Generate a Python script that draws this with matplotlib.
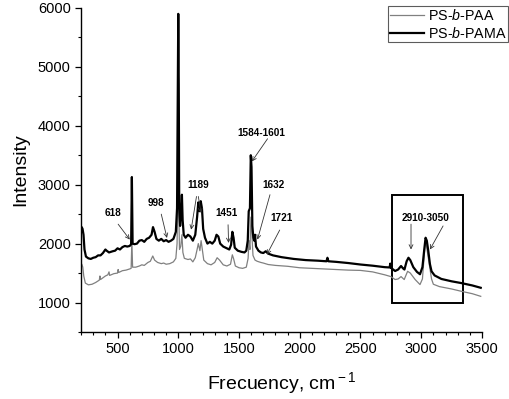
import matplotlib
matplotlib.use("Agg")
import matplotlib.pyplot as plt
from matplotlib.patches import Rectangle
from matplotlib.ticker import MultipleLocator

plt.rcParams['font.family'] = ['Liberation Sans', 'DejaVu Sans']
plt.rcParams['mathtext.fontset'] = 'custom'
plt.rcParams['mathtext.rm'] = 'Liberation Sans'
plt.rcParams['mathtext.it'] = 'Liberation Sans:italic'

# ---- data ----
wn_pama = [200, 205, 212, 220, 228, 240, 260, 280, 300, 320, 340, 360, 380, 400, 410, 430, 460, 480,
           500, 520, 540, 560, 580, 600, 612, 618, 624, 640, 660, 680, 700, 720, 740, 760, 780, 792,
           805, 820, 840, 860, 880, 900, 920, 940, 960, 980, 990, 995, 1000, 1004, 1008, 1015, 1022,
           1030, 1036, 1045, 1060, 1080, 1100, 1120, 1140, 1155, 1165, 1175, 1185, 1195, 1205, 1220,
           1240, 1260, 1280, 1300, 1315, 1330, 1345, 1370, 1400, 1420, 1435, 1445, 1455, 1465, 1490,
           1520, 1545, 1560, 1572, 1580, 1590, 1597, 1603, 1610, 1618, 1625, 1632, 1640, 1660, 1680,
           1700, 1720, 1740, 1780, 1850, 1950, 2050, 2150, 2220, 2228, 2236, 2300, 2400, 2500, 2600,
           2700, 2740, 2745, 2750, 2785, 2810, 2834, 2850, 2862, 2880, 2895, 2910, 2935, 2965, 2990,
           3010, 3025, 3036, 3046, 3058, 3072, 3085, 3110, 3166, 3250, 3330, 3420, 3490]
int_pama = [2200, 2280, 2250, 2150, 1900, 1780, 1750, 1740, 1760, 1770, 1800, 1800, 1840, 1900, 1880,
            1850, 1870, 1880, 1920, 1900, 1940, 1960, 1950, 1960, 1990, 3130, 2000, 1990, 2000, 2050,
            2060, 2030, 2080, 2100, 2150, 2280, 2200, 2080, 2050, 2080, 2040, 2060, 2030, 2050, 2080,
            2200, 2600, 4200, 5900, 4700, 2600, 2300, 2500, 2830, 2400, 2150, 2100, 2150, 2120, 2050,
            2150, 2450, 2700, 2550, 2720, 2600, 2250, 2100, 2000, 2030, 2000, 2050, 2150, 2120, 2000,
            1950, 1920, 1900, 1980, 2200, 2100, 1930, 1880, 1860, 1850, 1880, 2050, 2550, 2600, 3500,
            3300, 2300, 2100, 2050, 2150, 1950, 1880, 1850, 1840, 1870, 1830, 1800, 1770, 1740, 1720,
            1710, 1700, 1760, 1700, 1690, 1670, 1645, 1625, 1600, 1595, 1660, 1590, 1535, 1560, 1620,
            1580, 1560, 1700, 1760, 1720, 1600, 1520, 1480, 1600, 1900, 2100, 2050, 1880, 1650, 1530,
            1460, 1400, 1360, 1330, 1290, 1250]

wn_paa = [200, 206, 214, 222, 235, 260, 290, 320, 350, 355, 360, 400, 420, 430, 435, 470, 500, 505,
          510, 540, 570, 600, 612, 618, 624, 650, 680, 700, 720, 750, 770, 790, 805, 830, 860, 880,
          900, 930, 960, 980, 990, 995, 1000, 1004, 1010, 1020, 1030, 1038, 1050, 1080, 1100, 1120,
          1140, 1155, 1165, 1178, 1188, 1198, 1210, 1240, 1270, 1300, 1320, 1340, 1370, 1400, 1430,
          1445, 1456, 1470, 1500, 1530, 1560, 1575, 1582, 1590, 1598, 1605, 1615, 1632, 1650, 1680,
          1700, 1740, 1800, 1900, 2000, 2100, 2200, 2300, 2400, 2500, 2600, 2700, 2750, 2785, 2810,
          2834, 2860, 2888, 2910, 2950, 2990, 3010, 3025, 3036, 3048, 3070, 3085, 3100, 3150, 3250,
          3331, 3420, 3490]
int_paa = [1600, 1650, 1600, 1450, 1330, 1300, 1310, 1340, 1380, 1450, 1390, 1450, 1470, 1520, 1460,
           1490, 1500, 1560, 1510, 1540, 1550, 1570, 1580, 2050, 1600, 1600, 1620, 1640, 1630, 1680,
           1700, 1790, 1720, 1680, 1660, 1670, 1650, 1660, 1690, 1750, 2000, 2600, 3200, 2600, 1900,
           1950, 2150, 1850, 1750, 1730, 1740, 1690, 1760, 1900, 2000, 1880, 2050, 1900, 1720, 1660,
           1640, 1680, 1760, 1720, 1640, 1620, 1650, 1810, 1740, 1620, 1590, 1580, 1600, 1750, 2050,
           1900, 2450, 2200, 1800, 1720, 1700, 1680, 1670, 1645, 1630, 1615, 1590, 1580, 1570, 1560,
           1550, 1545, 1520, 1470, 1440, 1390, 1400, 1440, 1390, 1530, 1500, 1390, 1305, 1400, 1800,
           2060, 1900, 1600, 1400, 1310, 1270, 1230, 1190, 1150, 1105]

series_labels = ['PS-$\\it{b}$-PAA', 'PS-$\\it{b}$-PAMA']

# annotations: (text, text_x, text_y, [(arrow_tip_x, arrow_tip_y, start_x, start_y), ...])
annotations = [
    ('618', 462, 2525, [(601, 2068, 505, 2330)]),
    ('998', 820, 2695, [(907, 2096, 860, 2500)]),
    ('1189', 1161, 3000, [(1106, 2237, 1150, 2800), (1188, 2520, 1165, 2800)]),
    ('1451', 1393, 2520, [(1414, 2012, 1410, 2320)]),
    ('1584-1601', 1682, 3880, [(1606, 3395, 1735, 3780)]),
    ('1632', 1780, 3000, [(1652, 2068, 1755, 2830)]),
    ('1721', 1852, 2435, [(1729, 1813, 1835, 2230)]),
    ('2910-3050', 3036, 2435, [(2916, 1900, 2916, 2330), (3072, 1900, 3180, 2300)]),
]
box_x = [2760, 3340]
box_y = [1000, 2830]

fig = plt.figure(figsize=(5.1, 3.99), dpi=100)
ax = fig.add_axes([0.159, 0.168, 0.786, 0.812])

ax.plot(wn_paa, int_paa, color='#808080', lw=0.9, label=series_labels[0])
ax.plot(wn_pama, int_pama, color='black', lw=1.6, label=series_labels[1])

ax.set_xlim(200, 3500)
ax.set_ylim(500, 6000)
ax.xaxis.set_major_locator(MultipleLocator(500))
ax.xaxis.set_minor_locator(MultipleLocator(100))
ax.yaxis.set_major_locator(MultipleLocator(1000))
ax.yaxis.set_minor_locator(MultipleLocator(500))
ax.tick_params(which='major', direction='out', length=4, width=0.9, labelsize=10.5)
ax.tick_params(which='minor', direction='out', length=2.5, width=0.8)
for s in ['top', 'right']:
    ax.spines[s].set_visible(False)
for s in ['left', 'bottom']:
    ax.spines[s].set_linewidth(1.0)

ax.set_xlabel('Frecuency, cm$^{\\rm -1}$', fontsize=14, labelpad=10)
ax.set_ylabel('Intensity', fontsize=14, labelpad=6)

for txt, tx, ty, arrows in annotations:
    ax.text(tx, ty, txt, fontsize=7.2, fontweight='bold', ha='center', va='center')
    for (px, py, sx, sy) in arrows:
        ax.annotate('', xy=(px, py), xytext=(sx, sy),
                    arrowprops=dict(arrowstyle='->', lw=0.6, color='#333333',
                                    shrinkA=0, shrinkB=0, mutation_scale=7))

ax.add_patch(Rectangle((box_x[0], box_y[0]), box_x[1] - box_x[0], box_y[1] - box_y[0],
                       fill=False, ec='black', lw=1.4))

leg = ax.legend(loc='upper right', bbox_to_anchor=(0.997, 0.984), bbox_transform=fig.transFigure,
                fontsize=10.3, frameon=True, fancybox=False, borderpad=0.1, handlelength=2.4,
                handletextpad=0.3, labelspacing=0.2, borderaxespad=0)
leg.get_frame().set_edgecolor('#333333')
leg.get_frame().set_linewidth(0.8)

fig.savefig('out.png', dpi=100)
